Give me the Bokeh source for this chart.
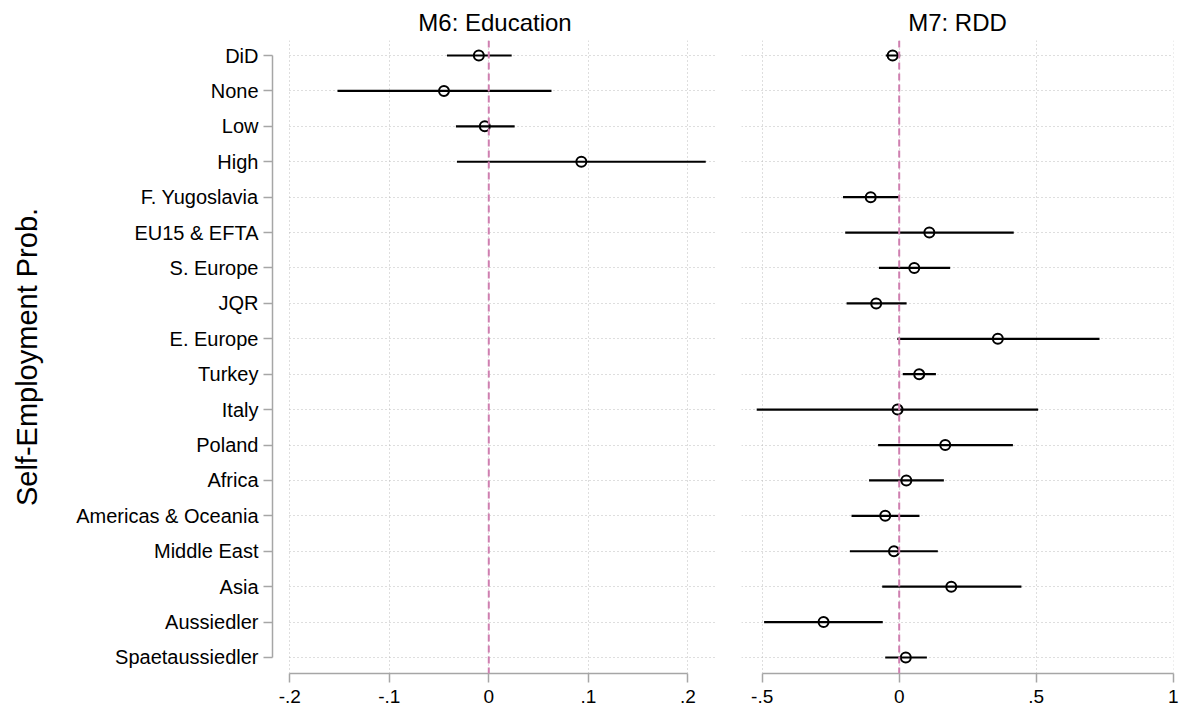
from bokeh.plotting import figure
from bokeh.layouts import row
from bokeh.models import Range1d, FixedTicker, Span, Grid
from bokeh.embed import file_html
from bokeh.resources import INLINE

# ---- data ----
rows = ["DiD", "None", "Low", "High", "F. Yugoslavia", "EU15 & EFTA", "S. Europe",
        "JQR", "E. Europe", "Turkey", "Italy", "Poland", "Africa",
        "Americas & Oceania", "Middle East", "Asia", "Aussiedler", "Spaetaussiedler"]

m6_rows = ["DiD", "None", "Low", "High"]
m6_est = [-0.010, -0.045, -0.004, 0.093]
m6_lo = [-0.042, -0.152, -0.033, -0.032]
m6_hi = [0.023, 0.063, 0.026, 0.218]

m7_rows = ["DiD", "F. Yugoslavia", "EU15 & EFTA", "S. Europe", "JQR", "E. Europe",
           "Turkey", "Italy", "Poland", "Africa", "Americas & Oceania", "Middle East",
           "Asia", "Aussiedler", "Spaetaussiedler"]
m7_est = [-0.024, -0.104, 0.110, 0.055, -0.084, 0.360, 0.073, -0.006, 0.168, 0.026,
          -0.051, -0.019, 0.190, -0.276, 0.024]
m7_lo = [-0.049, -0.205, -0.197, -0.074, -0.192, -0.007, 0.013, -0.520, -0.077, -0.110,
         -0.174, -0.180, -0.062, -0.493, -0.051]
m7_hi = [0.004, -0.001, 0.418, 0.186, 0.027, 0.731, 0.134, 0.507, 0.415, 0.163,
         0.074, 0.141, 0.446, -0.060, 0.101]

m6_ticks = [-0.2, -0.1, 0, 0.1, 0.2]
m6_tick_labels = ["-.2", "-.1", "0", ".1", ".2"]
m7_ticks = [-0.5, 0, 0.5, 1]
m7_tick_labels = ["-.5", "0", ".5", "1"]

titles = ["M6: Education", "M7: RDD"]
y_title = "Self-Employment Prob."

# ---- style ----
FONT = "Liberation Sans"
AXIS_GRAY = "#a6a6a6"
GRID_GRAY = "#bdbdbd"
PINK = "#cf7fb0"

pos = {r: i + 1 for i, r in enumerate(rows)}
y_top = 1 - 15 / 35.41
y_bot = len(rows) + 16 / 35.41

has_cross = "cross_bounds" in Grid.properties()


def make_panel(title, xs, xe, ticks, tick_labels, rnames, est, lo, hi, left, fw, bl, br):
    p = figure(width=bl + fw + br, height=711, frame_width=fw, frame_height=633,
               min_border_left=bl, min_border_right=br, min_border_top=40,
               min_border_bottom=38, output_backend="svg", toolbar_location=None,
               x_range=Range1d(xs, xe), y_range=Range1d(y_bot, y_top),
               y_axis_location="left" if left else None, title=title)
    p.outline_line_color = None
    p.background_fill_color = "white"
    p.border_fill_color = "white"
    p.title.text_font = FONT
    p.title.text_font_size = "24px"
    p.title.text_font_style = "normal"
    p.title.text_color = "black"
    p.title.align = "center"
    p.title.standoff = 10

    # x axis
    xa = p.xaxis[0]
    xa.ticker = FixedTicker(ticks=ticks)
    xa.major_label_overrides = {t: l for t, l in zip(ticks, tick_labels)}
    xa.bounds = (ticks[0], ticks[-1])
    xa.axis_line_color = AXIS_GRAY
    xa.axis_line_width = 1.5
    xa.major_tick_line_color = AXIS_GRAY
    xa.major_tick_line_width = 1.5
    xa.major_tick_out = 9
    xa.major_tick_in = 0
    xa.minor_tick_line_color = None
    xa.major_label_text_font = FONT
    xa.major_label_text_font_size = "19px"
    xa.major_label_text_color = "black"
    xa.major_label_standoff = 7

    # grids
    p.xgrid.ticker = FixedTicker(ticks=ticks)
    p.xgrid.grid_line_color = GRID_GRAY
    p.xgrid.grid_line_dash = "1 3"
    p.xgrid.grid_line_width = 1
    p.ygrid.ticker = FixedTicker(ticks=list(range(1, len(rows) + 1)))
    p.ygrid.grid_line_color = GRID_GRAY
    p.ygrid.grid_line_dash = "1 3"
    p.ygrid.grid_line_width = 1
    if has_cross:
        p.xgrid.cross_bounds = (y_top, y_bot)
        p.ygrid.cross_bounds = (ticks[0] if left else xs, xe)

    if left:
        ya = p.yaxis[0]
        ya.ticker = FixedTicker(ticks=list(range(1, len(rows) + 1)))
        ya.major_label_overrides = {i + 1: r for i, r in enumerate(rows)}
        ya.bounds = (1, len(rows))
        ya.axis_line_color = AXIS_GRAY
        ya.axis_line_width = 1.5
        ya.major_tick_line_color = AXIS_GRAY
        ya.major_tick_line_width = 1.5
        ya.major_tick_out = 9
        ya.major_tick_in = 0
        ya.minor_tick_line_color = None
        ya.major_label_text_font = FONT
        ya.major_label_text_font_size = "20px"
        ya.major_label_text_color = "black"
        ya.major_label_standoff = 5
        ya.axis_label = y_title
        ya.axis_label_text_font = FONT
        ya.axis_label_text_font_size = "29px"
        ya.axis_label_text_font_style = "normal"
        ya.axis_label_text_color = "black"
        ya.axis_label_standoff = 30

    p.add_layout(Span(location=0, dimension="height", line_color=PINK,
                      line_dash="7 4", line_width=2))

    ys = [pos[r] for r in rnames]
    p.segment(x0=lo, y0=ys, x1=hi, y1=ys, line_color="black", line_width=2.2)
    p.scatter(x=est, y=ys, marker="circle", size=10, line_color="black",
              line_width=2, fill_alpha=0)
    return p


p1 = make_panel(titles[0], -0.2173, 0.2298, m6_ticks, m6_tick_labels,
                m6_rows, m6_est, m6_lo, m6_hi, True, 445, 272, 12)
p2 = make_panel(titles[1], -0.5755, 1.001, m7_ticks, m7_tick_labels,
                m7_rows, m7_est, m7_lo, m7_hi, False, 432, 12, 11)

layout = row(p1, p2)
open("out.html", "w").write(file_html(layout, INLINE))
